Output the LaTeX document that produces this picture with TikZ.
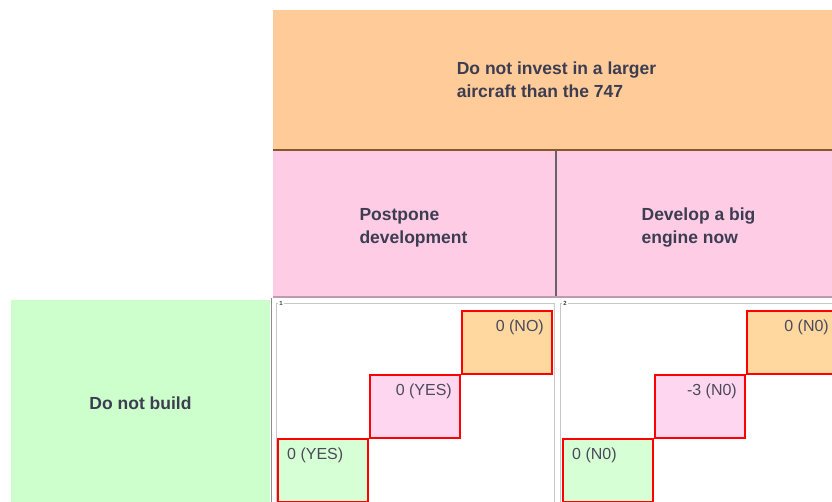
\documentclass[tikz,border=0pt]{standalone}
\usepackage{fontspec}
\setmainfont{Liberation Sans}
\usepackage{tikz}
\usetikzlibrary{calc}
\definecolor{hdorange}{HTML}{FFCC99}
\definecolor{hdpink}{HTML}{FFCCE6}
\definecolor{hdgreen}{HTML}{CCFFCC}
\definecolor{bxorange}{HTML}{FFD8A0}
\definecolor{bxpink}{HTML}{FFD6F0}
\definecolor{bxgreen}{HTML}{D6FFD6}
\definecolor{inktext}{HTML}{3D3D52}
\definecolor{boxtext}{HTML}{4A4A5A}
\definecolor{framegrey}{HTML}{C8C8C8}
\tikzset{
  hdcell/.style={anchor=north west, inner sep=0, outer sep=0},
  hdtext/.style={inner sep=0, align=left, text=inktext},
  paybox/.style={anchor=north west, inner sep=0, minimum width=90, minimum height=63, draw=red, line width=2pt},
  paytext/.style={inner sep=0, text=boxtext, font=\fontsize{16}{19}\selectfont\mdseries}
}

\begin{document}
\begin{tikzpicture}[x=1pt, y=-1pt, font=\fontsize{17.5}{23}\selectfont\bfseries]
\useasboundingbox (0,0) rectangle (832,502);
\clip (0,0) rectangle (832,502);
\node[hdcell, fill=hdorange, minimum width=559, minimum height=140] (invest) at (273,10) {};
\node[hdcell, fill=hdpink, minimum width=283, minimum height=146] (postpone) at (273,151) {};
\node[hdcell, fill=hdpink, minimum width=275, minimum height=146] (develop) at (557,151) {};
\node[hdcell, fill=hdgreen, minimum width=259, minimum height=206] (nobuild) at (11,300) {};
\node[hdtext] (investtext) at ($(invest.center)+(4,0)$) {Do not invest in a larger\\aircraft than the 747};
\node[hdtext] (postponetext) at ($(postpone.center)+(-1,4)$) {Postpone\\development};
\node[hdtext] (developtext) at ($(develop.center)+(4,4)$) {Develop a big\\engine now};
\node[hdtext] (nobuildtext) at (nobuild.center) {Do not build};
\draw[brown!70!black, line width=1.5pt] (invest.south west) -- (invest.south east);
\draw[black!60, line width=2pt] (postpone.north east) -- (postpone.south east);
\draw[black!25!hdpink, line width=1.5pt] (postpone.south west) -- (develop.south east);
\draw[black!45, line width=1pt] (271,298) -- (271,502);

\foreach \o/\n/\a/\b/\c in {0/1/0 (NO)/0 (YES)/0 (YES), 285/2/0 (N0)/-3 (N0)/0 (N0)} {
  \draw[framegrey] (276+\o-\n+1,303) rectangle (554+\o,520);
  \node[fill=white, inner sep=1pt, font=\fontsize{6}{6}\selectfont\bfseries, text=inktext] (no\n) at (281+\o-\n+1,303) {\n};
  \node[paybox, fill=bxorange] (ora\n) at (461+\o,310) {};
  \node[paybox, fill=bxpink] (pin\n) at (369+\o,374) {};
  \node[paybox, fill=bxgreen] (gre\n) at (277+\o,438) {};
  \node[paytext, anchor=east] (oratext\n) at ($(ora\n.north east)+(-9,17)$) {\a};
  \node[paytext, anchor=east] (pintext\n) at ($(pin\n.north east)+(-9,17)$) {\b};
  \node[paytext, anchor=west] (gretext\n) at ($(gre\n.north west)+(10,17)$) {\c};
}
\end{tikzpicture}
\end{document}
